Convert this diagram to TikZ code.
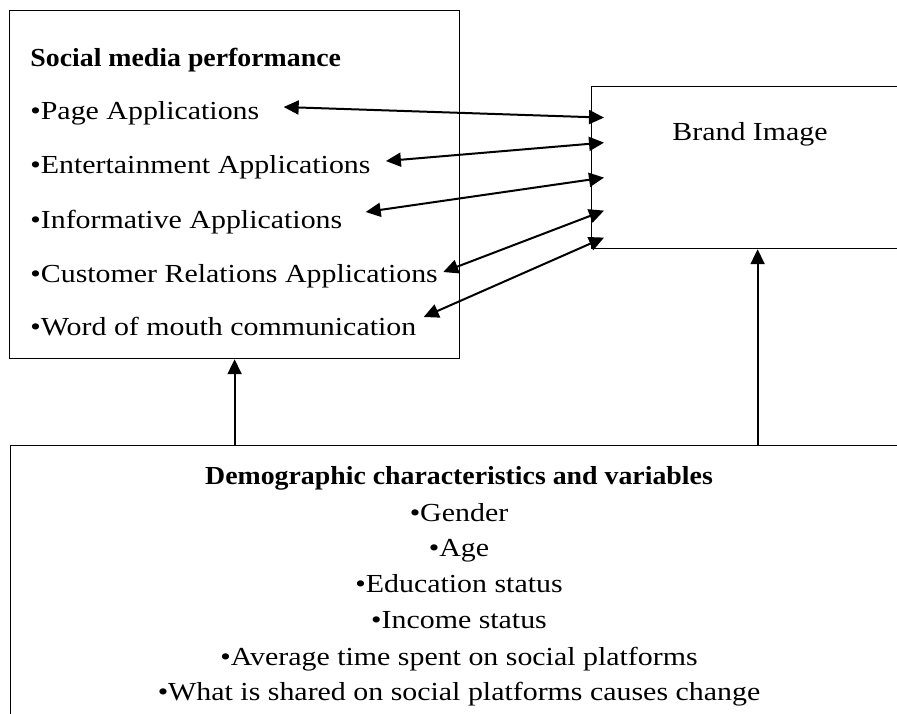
\documentclass[tikz,border=0pt]{standalone}
\usepackage{fontspec}
\setmainfont{Liberation Serif}[FakeStretch=1.15,BoldFeatures={FakeStretch=1.07}]
\usetikzlibrary{arrows.meta}

\tikzset{
  box/.style={draw,line width=0.6pt,inner sep=0pt},
  item/.style={anchor=base west,inner sep=0pt,text height=9pt,text depth=3pt},
  demoline/.style={anchor=base,inner sep=0pt},
  link/.style={{Triangle[length=7.5pt,width=7pt]}-{Triangle[length=7.5pt,width=7pt]},line width=1pt},
  up/.style={-{Triangle[length=7.5pt,width=7pt]},line width=1pt},
}

\begin{document}
\begin{tikzpicture}[x=0.5pt,y=-0.5pt,font=\fontsize{13}{16}\selectfont]
  \useasboundingbox (0,0) rectangle (897,713);
  \clip (0,0) rectangle (897,713);
  % boxes
  \node[box,anchor=north west,minimum width=225pt,minimum height=174pt] (smp) at (9,10) {};
  \node[box,anchor=north west,minimum width=166pt,minimum height=81pt] (brand) at (591,86) {};
  \node[box,anchor=north west,minimum width=450pt,minimum height=150pt] (demo) at (10,445) {};
  % social media performance
  \node[anchor=base west,inner sep=0pt,font=\fontsize{13}{16}\selectfont\bfseries] (smptitle) at (30,66) {Social media performance};
  \node[item] (pa) at (30,119) {\textbullet Page Applications};
  \node[item] (ea) at (30,173) {\textbullet Entertainment Applications};
  \node[item] (ia) at (30,228) {\textbullet Informative Applications};
  \node[item] (cra) at (30,282) {\textbullet Customer Relations Applications};
  \node[item] (wom) at (30,335) {\textbullet Word of mouth communication};
  \node[anchor=base,inner sep=0pt] (brandlbl) at (750,140) {Brand Image};
  % demographics
  \node[demoline,font=\fontsize{13}{16}\selectfont\bfseries] (d0) at (459,484) {Demographic characteristics and variables};
  \node[demoline] (d1) at (459,521) {\textbullet Gender};
  \node[demoline] (d2) at (459,556) {\textbullet Age};
  \node[demoline] (d3) at (459,592) {\textbullet Education status};
  \node[demoline] (d4) at (459,628) {\textbullet Income status};
  \node[demoline] (d5) at (459,665) {\textbullet Average time spent on social platforms};
  \node[demoline] (d6) at (459,700) {\textbullet What is shared on social platforms causes change};
  % links
  \draw[link] ([shift={(24,-6)}]pa.east) -- ([shift={(13,-50)}]brand.west);
  \draw[link] ([shift={(15,-6)}]ea.east) -- ([shift={(13,-25)}]brand.west);
  \draw[link] ([shift={(23,-10)}]ia.east) -- ([shift={(13,10)}]brand.west);
  \draw[link] ([shift={(5,-4)}]cra.east) -- ([shift={(13,43)}]brand.west);
  \draw[link] ([shift={(7,-12)}]wom.east) -- ([shift={(13,70)}]brand.west);
  \draw[up] (demo.north -| smp.south) -- (smp.south);
  \draw[up] (demo.north -| brand.south) -- (brand.south);
\end{tikzpicture}
\end{document}
